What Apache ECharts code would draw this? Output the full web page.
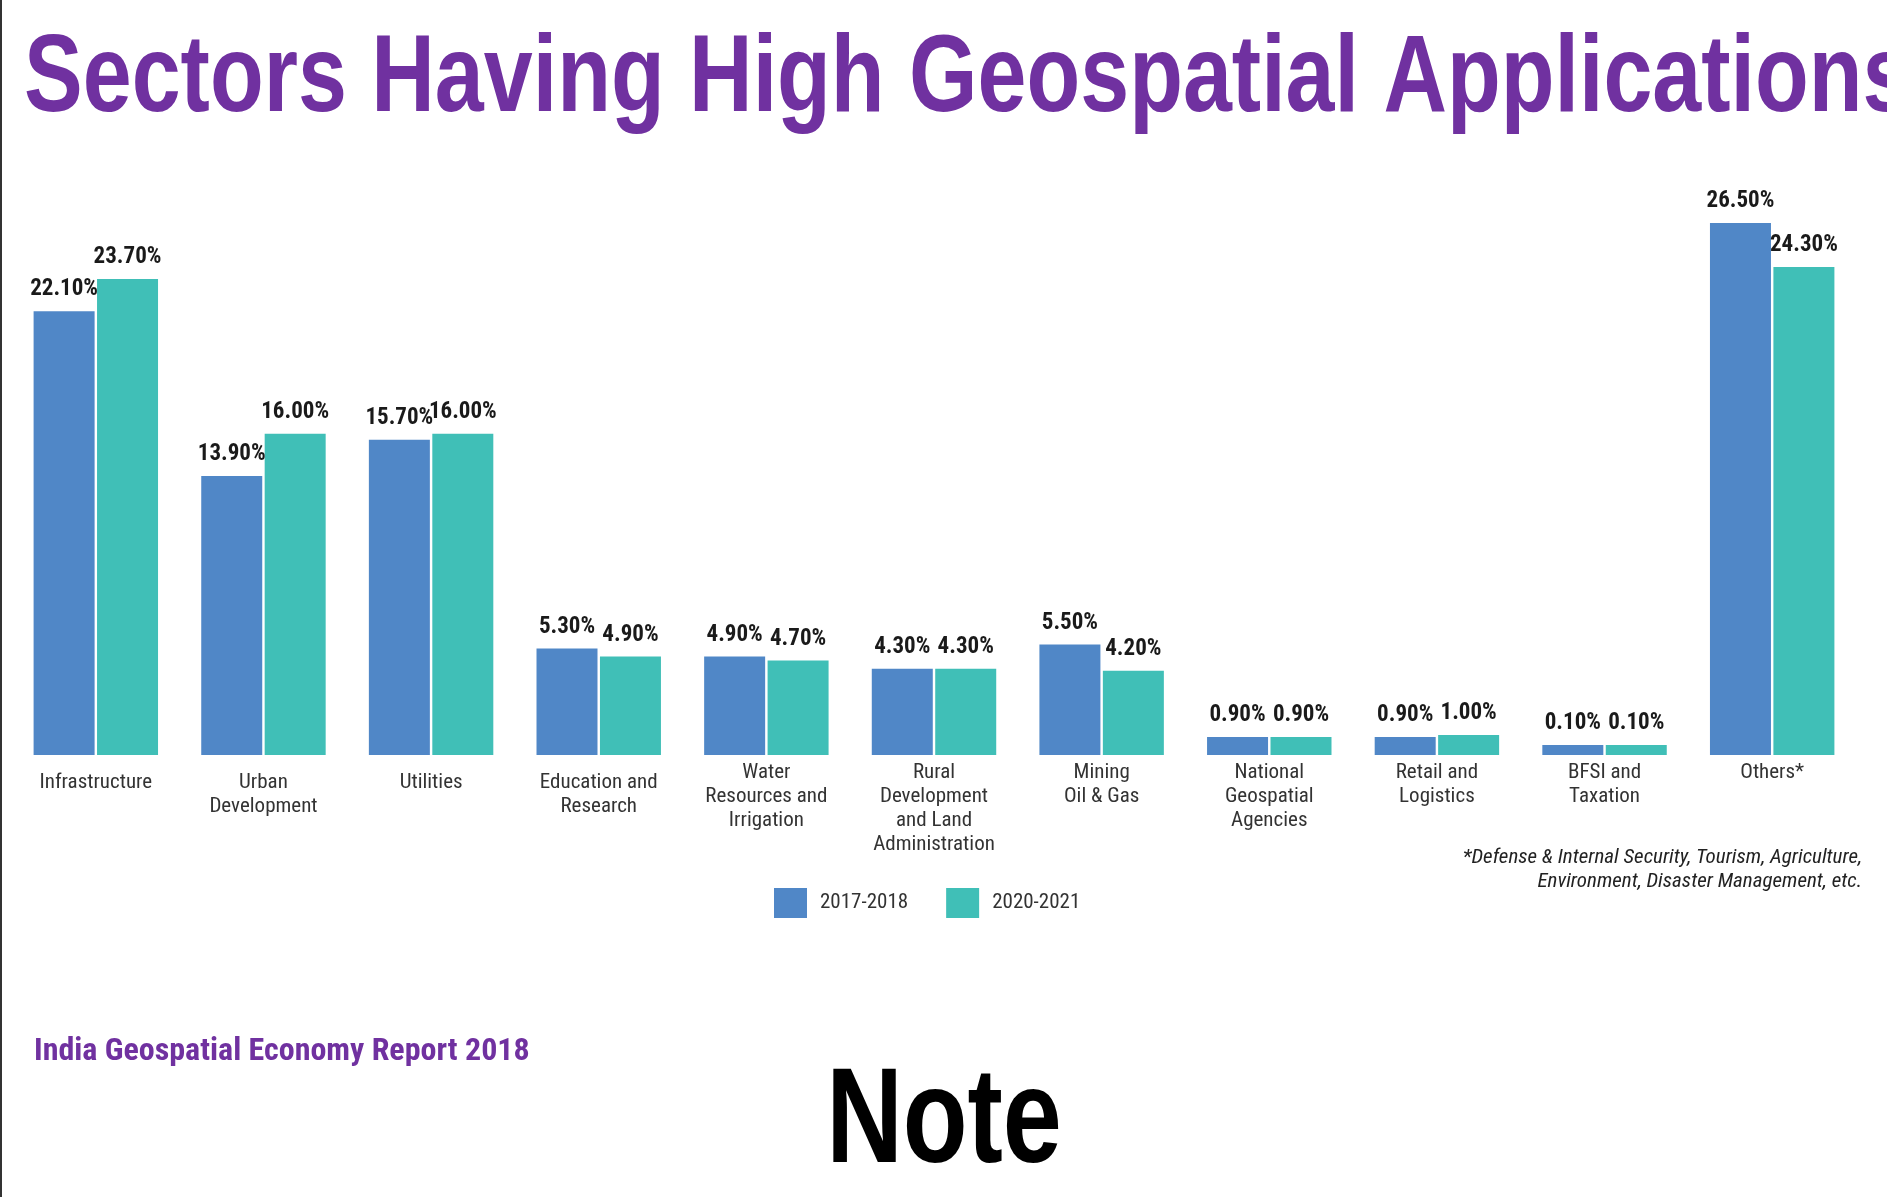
<!DOCTYPE html>
<html>
<head>
<meta charset="utf-8">
<title>Sectors Having High Geospatial Applications</title>
<script src="https://cdn.jsdelivr.net/npm/echarts@6/dist/echarts.min.js"></script>
<style>
  html, body { margin: 0; padding: 0; background: #fff; }
  #chart { width: 1887px; height: 1197px; }
</style>
</head>
<body>
<div id="chart"></div>
<script>
// 数据
const sectors = [
  'Infrastructure',
  'Urban\nDevelopment',
  'Utilities',
  'Education and\nResearch',
  'Water\nResources and\nIrrigation',
  'Rural\nDevelopment\nand Land\nAdministration',
  'Mining\nOil & Gas',
  'National\nGeospatial\nAgencies',
  'Retail and\nLogistics',
  'BFSI and\nTaxation',
  'Others*'
]
const share2017 = [22.1, 13.9, 15.7, 5.3, 4.9, 4.3, 5.5, 0.9, 0.9, 0.1, 26.5]
const share2020 = [23.7, 16.0, 16.0, 4.9, 4.7, 4.3, 4.2, 0.9, 1.0, 0.1, 24.3]
const seriesNames = ['2017-2018', '2020-2021']

// 字体
const cond = "'Roboto Condensed', 'Open Sans Condensed', sans-serif"
const arial = "'Liberation Sans', Arial, sans-serif"
const purple = '#7031a0'

const chart = echarts.init(document.getElementById('chart'))

// 前几个标签在原图里略低一些
const axisData = sectors.map((name, i) => i < 4
  ? { value: name, textStyle: { padding: [10, 0, 0, 0] } }
  : name)

const valueLabel = {
  show: true,
  position: 'top',
  distance: 10,
  fontFamily: cond,
  fontWeight: 'bold',
  fontSize: 23,
  color: '#1a1a1a',
  formatter: p => p.value.toFixed(2) + '%'
}

chart.setOption({
  animation: false,
  grid: { left: 12, right: 31, top: 152.6, bottom: 442 },
  legend: {
    data: seriesNames,
    left: 774,
    top: 888,
    padding: 0,
    icon: 'rect',
    itemWidth: 33,
    itemHeight: 30,
    itemGap: 38,
    textStyle: { fontFamily: cond, fontSize: 21, color: '#333', padding: [0, 0, 0, 8] }
  },
  xAxis: {
    type: 'category',
    data: axisData,
    axisLine: { show: false },
    axisTick: { show: false },
    axisLabel: {
      interval: 0,
      margin: 6,
      fontFamily: cond,
      fontSize: 21,
      lineHeight: 24,
      color: '#333'
    }
  },
  yAxis: {
    type: 'value',
    min: 0,
    max: 30,
    show: false,
    splitLine: { show: false }
  },
  series: [
    {
      name: seriesNames[0],
      type: 'bar',
      data: share2017,
      barWidth: 61,
      barGap: '4%',
      barMinHeight: 10,
      itemStyle: { color: '#5087c7' },
      label: valueLabel
    },
    {
      name: seriesNames[1],
      type: 'bar',
      data: share2020,
      barWidth: 61,
      barGap: '4%',
      barMinHeight: 10,
      itemStyle: { color: '#40bfb7' },
      label: valueLabel
    }
  ],
  graphic: [
    {
      type: 'rect',
      shape: { x: 0, y: 0, width: 2, height: 1197 },
      style: { fill: '#333' }
    },
    {
      // 标题：Arial Narrow 风格，用横向压缩
      type: 'text',
      x: 24, y: 81, scaleX: 0.8,
      style: {
        x: 0, y: 0,
        text: 'Sectors Having High Geospatial Applications',
        fontFamily: arial, fontWeight: 'bold', fontSize: 110,
        fill: purple, align: 'left', verticalAlign: 'middle'
      }
    },
    {
      type: 'text',
      style: {
        x: 1862, y: 846,
        text: '*Defense & Internal Security, Tourism, Agriculture,\nEnvironment, Disaster Management, etc.',
        fontFamily: cond, fontStyle: 'italic', fontSize: 21, lineHeight: 24,
        fill: '#222', align: 'right', verticalAlign: 'top'
      }
    },
    {
      type: 'text',
      style: {
        x: 34, y: 1052,
        text: 'India Geospatial Economy Report 2018',
        fontFamily: cond, fontWeight: 'bold', fontSize: 32,
        fill: purple, align: 'left', verticalAlign: 'middle'
      }
    },
    {
      type: 'text',
      x: 944, y: 1124, scaleX: 0.78,
      style: {
        x: 0, y: 0,
        text: 'Note',
        fontFamily: arial, fontWeight: 'bold', fontSize: 136,
        fill: '#000', align: 'center', verticalAlign: 'middle'
      }
    }
  ]
})

window.addEventListener('resize', () => chart.resize())
</script>
</body>
</html>
